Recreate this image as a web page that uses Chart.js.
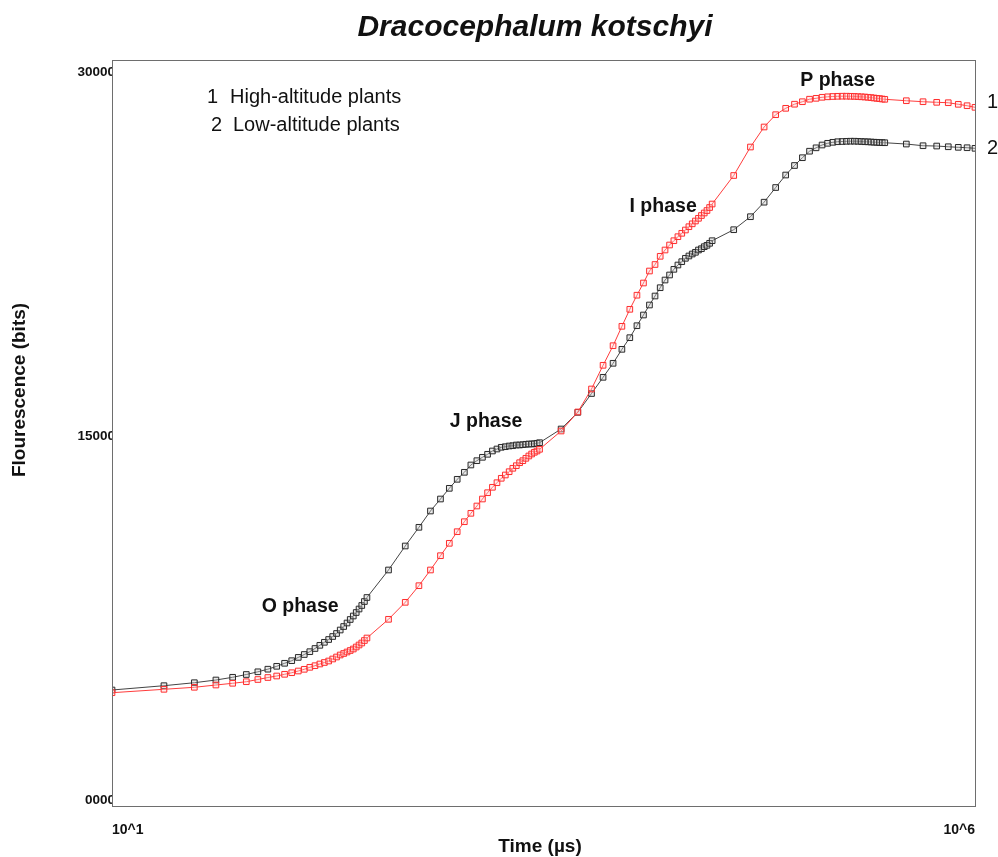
<!DOCTYPE html>
<html>
<head>
<meta charset="utf-8">
<title>Dracocephalum kotschyi</title>
<script src="https://cdn.jsdelivr.net/npm/chart.js@4/dist/chart.umd.min.js"></script>
<style>
  html, body { margin: 0; padding: 0; background: #fff; }
  #wrap { width: 998px; height: 857px; }
</style>
</head>
<body>
<div id="wrap"><canvas id="chart" width="998" height="857"></canvas></div>
<script>
// time of each reading (µs)
const times = [
  10, 20, 30, 40, 50, 60, 70, 80, 90, 100,
  110, 120, 130, 140, 150, 160, 170, 180, 190, 200,
  210, 220, 230, 240, 250, 260, 270, 280, 290, 300,
  400, 500, 600, 700, 800, 900, 1000, 1100, 1200, 1300,
  1400, 1500, 1600, 1700, 1800, 1900, 2000, 2100, 2200, 2300,
  2400, 2500, 2600, 2700, 2800, 2900, 3000,
  4000, 5000, 6000, 7000, 8000, 9000, 10000, 11000, 12000, 13000,
  14000, 15000, 16000, 17000, 18000, 19000, 20000, 21000, 22000, 23000,
  24000, 25000, 26000, 27000, 28000, 29000, 30000,
  40000, 50000, 60000, 70000, 80000, 90000, 100000, 110000, 120000, 130000,
  140000, 150000, 160000, 170000, 180000, 190000, 200000, 210000, 220000, 230000,
  240000, 250000, 260000, 270000, 280000, 290000, 300000,
  400000, 500000, 600000, 700000, 800000, 900000, 1000000
];

// 1  High-altitude plants (red)
const highAltitude = [
  4669, 4809, 4892, 4986, 5057, 5122, 5213, 5295, 5357, 5427,
  5493, 5563, 5633, 5716, 5782, 5852, 5914, 5975, 6058, 6140,
  6223, 6285, 6346, 6408, 6470, 6552, 6635, 6717, 6820, 6923,
  7694, 8394, 9079, 9726, 10315, 10826, 11304, 11716, 12062, 12363,
  12651, 12911, 13134, 13323, 13505, 13641, 13777, 13917, 14024, 14147,
  14230, 14329, 14424, 14506, 14576, 14630, 14700,
  15454, 16237, 17185, 18161, 18969, 19768, 20469, 21050, 21553, 22047,
  22315, 22653, 22913, 23119, 23296, 23461, 23601, 23737, 23873, 23992,
  24108, 24219, 24334, 24438, 24540, 24664, 24808,
  25983, 27157, 27982, 28489, 28752, 28921, 29024, 29127, 29164, 29206,
  29226, 29239, 29247, 29251, 29251, 29247, 29243, 29234, 29226, 29218,
  29206, 29193, 29177, 29164, 29152, 29135, 29123,
  29065, 29024, 28999, 28983, 28917, 28859, 28793
];

// 2  Low-altitude plants (black)
const lowAltitude = [
  4780, 4958, 5081, 5192, 5304, 5419, 5530, 5638, 5757, 5881,
  5988, 6124, 6243, 6359, 6491, 6622, 6746, 6861, 6985, 7109,
  7253, 7397, 7541, 7686, 7830, 7974, 8118, 8263, 8427, 8592,
  9726, 10715, 11485, 12157, 12651, 13092, 13463, 13752, 14053, 14230,
  14370, 14494, 14630, 14712, 14782, 14807, 14836, 14848, 14877, 14877,
  14890, 14906, 14918, 14918, 14930, 14947, 14972,
  15536, 16224, 16999, 17667, 18244, 18820, 19299, 19793, 20234, 20646,
  21017, 21359, 21676, 21883, 22117, 22294, 22431, 22571, 22666, 22748,
  22818, 22913, 22966, 23049, 23106, 23189, 23296,
  23749, 24285, 24883, 25488, 26003, 26395, 26716, 26984, 27124, 27240,
  27310, 27351, 27375, 27384, 27392, 27396, 27396, 27392, 27384, 27375,
  27371, 27363, 27355, 27351, 27342, 27338, 27334,
  27280, 27210, 27197, 27168, 27144, 27128, 27103
];

const xTickValues = [10, 1000000];
const xTickLabels = ["10^1", "10^6"];
const yTickValues = [0, 15000, 30000];
const yTickLabels = ["0000", "15000", "30000"];

// phase labels: [text, time (µs), fluorescence]
const phaseLabels = [
  ["O phase", 123, 8220],
  ["J phase", 1470, 15850],
  ["I phase", 15600, 24720],
  ["P phase", 160000, 29900]
];

const FONT = "'Liberation Sans', Arial, Helvetica, sans-serif";

const toPoints = vals => times.map((t, i) => ({ x: t, y: vals[i] }));

const annotations = {
  id: "annotations",
  afterDraw(chart) {
    const { ctx, chartArea: a, scales } = chart;
    ctx.save();

    // plot frame
    ctx.strokeStyle = "#6e6e6e";
    ctx.lineWidth = 1;
    ctx.strokeRect(a.left + 0.5, a.top + 0.5, a.right - a.left, a.bottom - a.top);

    ctx.fillStyle = "#111";
    ctx.textBaseline = "middle";

    // title
    ctx.textAlign = "center";
    ctx.font = `italic bold 30px ${FONT}`;
    ctx.fillText("Dracocephalum kotschyi", 535, 28);

    // axis titles
    ctx.font = `bold 19px ${FONT}`;
    ctx.fillText("Time (\u00b5s)", 540, 847);
    ctx.save();
    ctx.translate(20, 390);
    ctx.rotate(-Math.PI / 2);
    ctx.fillText("Flourescence (bits)", 0, 0);
    ctx.restore();

    // phase labels
    ctx.font = `bold 19.5px ${FONT}`;
    phaseLabels.forEach(([txt, t, v]) => {
      ctx.fillText(txt, scales.x.getPixelForValue(t), scales.y.getPixelForValue(v));
    });

    // legend text
    ctx.textAlign = "left";
    ctx.font = `20px ${FONT}`;
    ctx.fillText("1", 207, 97);
    ctx.fillText("High-altitude plants", 230, 97);
    ctx.fillText("2", 211, 125);
    ctx.fillText("Low-altitude plants", 233, 125);

    // curve numbers at the right edge
    ctx.fillText("1", 987, 102);
    ctx.fillText("2", 987, 148);

    ctx.restore();
  }
};

new Chart(document.getElementById("chart"), {
  type: "line",
  data: {
    datasets: [
      {
        label: "1 High-altitude plants",
        data: toPoints(highAltitude),
        borderColor: "#ff3c3c",
        borderWidth: 1,
        pointStyle: "rect",
        pointRadius: 4,
        pointBorderWidth: 1,
        pointBorderColor: "#ff2e2e",
        pointBackgroundColor: "rgba(255,210,210,0.35)",
        tension: 0
      },
      {
        label: "2 Low-altitude plants",
        data: toPoints(lowAltitude),
        borderColor: "#444",
        borderWidth: 1,
        pointStyle: "rect",
        pointRadius: 4,
        pointBorderWidth: 1,
        pointBorderColor: "#2a2a2a",
        pointBackgroundColor: "rgba(200,200,200,0.4)",
        tension: 0
      }
    ]
  },
  options: {
    responsive: false,
    animation: false,
    events: [],
    layout: { padding: { top: 60, right: 23, left: 0, bottom: 0 } },
    plugins: {
      legend: { display: false },
      title: { display: false },
      tooltip: { enabled: false }
    },
    scales: {
      x: {
        type: "logarithmic",
        min: 10,
        max: 1000000,
        grid: { display: false, drawTicks: false },
        border: { display: false },
        afterBuildTicks: s => { s.ticks = xTickValues.map(v => ({ value: v })); },
        afterFit: s => { s.height = 51; },
        ticks: {
          align: "inner",
          padding: 16,
          maxRotation: 0,
          color: "#111",
          font: { family: FONT, size: 14, weight: "bold" },
          callback: (v, i) => xTickLabels[i]
        }
      },
      y: {
        min: 0,
        max: 30743,
        grid: { display: false, drawTicks: false },
        border: { display: false },
        afterBuildTicks: s => { s.ticks = yTickValues.map(v => ({ value: v })); },
        afterFit: s => { s.width = 112; },
        ticks: {
          padding: -3,
          labelOffset: -6,
          color: "#111",
          font: { family: FONT, size: 13.5, weight: "bold" },
          callback: (v, i) => yTickLabels[i]
        }
      }
    }
  },
  plugins: [annotations]
});
</script>
</body>
</html>
